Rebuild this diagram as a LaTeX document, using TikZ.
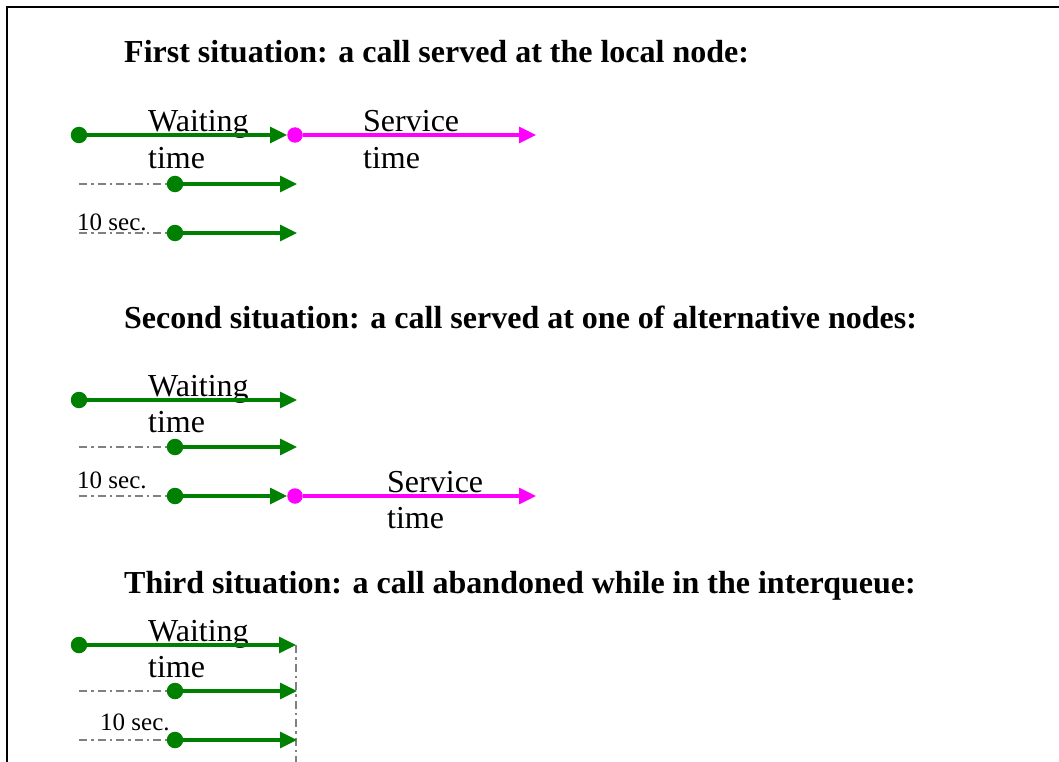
\documentclass[tikz,border=0pt]{standalone}
\usepackage{fontspec}
\setmainfont{Liberation Serif}
\usetikzlibrary{arrows.meta}
\definecolor{callgreen}{RGB}{0,128,0}
\definecolor{callpink}{RGB}{255,0,255}
\definecolor{callgray}{RGB}{128,128,128}
\begin{document}
\begin{tikzpicture}[
        x=1pt, y=-1pt,
        every node/.style={inner sep=0pt},
        heading/.style={anchor=base west, font=\fontsize{32}{36}\selectfont\bfseries},
        lbl/.style={anchor=base west, align=left, font=\fontsize{32}{36}\selectfont},
        secs/.style={anchor=base west, font=\fontsize{25}{28}\selectfont},
        gdot/.style={circle, fill=callgreen, minimum size=16.5pt},
        mdot/.style={circle, fill=callpink, minimum size=15.5pt},
        garrow/.style={-{Triangle[length=17pt, width=16pt]}, line width=3.2pt, color=callgreen},
        marrow/.style={-{Triangle[length=17pt, width=16pt]}, line width=3.2pt, color=callpink},
        dashdot/.style={draw=callgray, line width=2.6pt, dash pattern=on 8pt off 4pt on 2.5pt off 4pt}
    ]
    \useasboundingbox (0,0) rectangle (1059,762);

    % Frame
    \draw[line width=2.5pt] (7,762) -- (7,7) -- (1059,7);

    % First situation
    \node[heading] (h1) at (124,63) {First situation: a call served at the local node:};
    \node[lbl] (wt1) at (148,168) {Waiting\\time};
    \node[lbl] (st1) at (363,168) {Service\\time};
    \node[gdot] (a1) at (79,135) {};
    \node[mdot] (s1) at (295,135) {};
    \coordinate (s1e) at (536,135);
    \draw[garrow] (a1) -- (s1);
    \draw[marrow] (s1) -- (s1e);

    \coordinate (d12) at (79,184);
    \coordinate (e12) at (297,184);
    \draw[dashdot] (d12) -- (175,184);
    \node[gdot] (b12) at (175,184) {};
    \draw[garrow] (b12) -- (e12);

    \node[secs] (t1) at (77,230) {10 sec.};
    \coordinate (d13) at (79,233);
    \coordinate (e13) at (297,233);
    \draw[dashdot] (d13) -- (175,233);
    \node[gdot] (b13) at (175,233) {};
    \draw[garrow] (b13) -- (e13);

    % Second situation
    \node[heading] (h2) at (124,328) {Second situation: a call served at one of alternative nodes:};
    \node[lbl] (wt2) at (148,432) {Waiting\\time};
    \node[gdot] (a2) at (79,400) {};
    \coordinate (e21) at (297,400);
    \draw[garrow] (a2) -- (e21);

    \coordinate (d22) at (79,447);
    \coordinate (e22) at (297,447);
    \draw[dashdot] (d22) -- (175,447);
    \node[gdot] (b22) at (175,447) {};
    \draw[garrow] (b22) -- (e22);

    \node[secs] (t2) at (77,488) {10 sec.};
    \node[lbl] (st2) at (387,528) {Service\\time};
    \coordinate (d23) at (79,496);
    \draw[dashdot] (d23) -- (175,496);
    \node[gdot] (b23) at (175,496) {};
    \node[mdot] (s2) at (295,496) {};
    \coordinate (s2e) at (536,496);
    \draw[garrow] (b23) -- (s2);
    \draw[marrow] (s2) -- (s2e);

    % Third situation
    \node[heading] (h3) at (124,593) {Third situation: a call abandoned while in the interqueue:};
    \node[lbl] (wt3) at (148,677) {Waiting\\time};
    \coordinate (v1) at (296,645);
    \coordinate (v2) at (296,762);
    \draw[dashdot] (v1) -- (v2);
    \node[gdot] (a3) at (79,645) {};
    \draw[garrow] (a3) -- (v1);

    \coordinate (d32) at (79,691);
    \coordinate (e32) at (297,691);
    \draw[dashdot] (d32) -- (175,691);
    \node[gdot] (b32) at (175,691) {};
    \draw[garrow] (b32) -- (e32);

    \node[secs] (t3) at (100,730) {10 sec.};
    \coordinate (d33) at (79,740);
    \coordinate (e33) at (297,740);
    \draw[dashdot] (d33) -- (175,740);
    \node[gdot] (b33) at (175,740) {};
    \draw[garrow] (b33) -- (e33);

\end{tikzpicture}
\end{document}
